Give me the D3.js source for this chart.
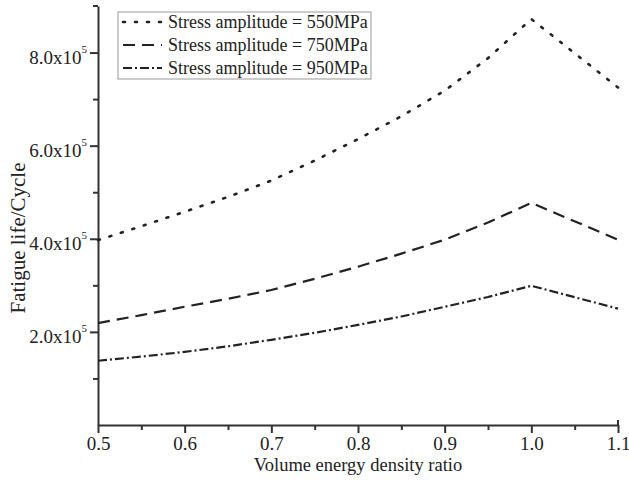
<!DOCTYPE html>
<html lang="en">
<head>
<meta charset="utf-8" />
<title>Fatigue life vs volume energy density ratio</title>
<script src="https://cdn.jsdelivr.net/npm/d3@7"></script>
<style>
    body { margin: 0; background: #fff; }
    text { font-family: "Liberation Serif", "Times New Roman", serif; fill: #222; }
    .axis path, .axis line { stroke: #333; }
</style>
</head>
<body>
<svg id="canvas" width="629" height="482" xmlns="http://www.w3.org/2000/svg"></svg>
<script>
    // volume energy density ratio
    var ratios = [0.5, 0.55, 0.6, 0.65, 0.7, 0.75, 0.8, 0.85, 0.9, 0.95, 1.0, 1.1];
    // fatigue life, cycles
    var life550 = [397000, 427000, 458000, 490000, 525000, 568000, 614000, 663000, 718000, 788000, 872000, 725000];
    var life750 = [219000, 236000, 254000, 271000, 290000, 314000, 340000, 368000, 398000, 435000, 477000, 398000];
    var life950 = [138000, 147000, 157000, 169000, 183000, 198000, 215000, 233000, 254000, 275000, 299000, 250000];
    var seriesNames = ["Stress amplitude = 550MPa", "Stress amplitude = 750MPa", "Stress amplitude = 950MPa"];
    var xTicks = [0.5, 0.6, 0.7, 0.8, 0.9, 1.0, 1.1];
    var yTicks = [200000, 400000, 600000, 800000];

    var svg = d3.select("#canvas");
    var x = d3.scaleLinear().domain([0.5, 1.1]).range([98, 618]);
    var y = d3.scaleLinear().domain([0, 900000]).range([425, 6]);

    var dashes = ["2,10", "12,7", "9,3,2,3"];
    var series = [life550, life750, life950];

    // minor ticks
    var xMinor = d3.range(0.55, 1.1, 0.1);
    svg.append("g").attr("class", "axis")
        .attr("transform", "translate(0,425)")
        .call(d3.axisBottom(x).tickValues(xMinor).tickSize(5).tickFormat(""))
        .call(function (g) { g.select(".domain").remove(); g.selectAll("line").attr("stroke-width", 2); });
    var yMinor = [100000, 300000, 500000, 700000];
    svg.append("g").attr("class", "axis")
        .attr("transform", "translate(98,0)")
        .call(d3.axisLeft(y).tickValues(yMinor).tickSize(5).tickFormat(""))
        .call(function (g) { g.select(".domain").remove(); g.selectAll("line").attr("stroke-width", 2); });

    // major axes
    var gx = svg.append("g").attr("class", "axis")
        .attr("transform", "translate(0,425)")
        .call(d3.axisBottom(x).tickValues(xTicks).tickSize(8).tickSizeOuter(0).tickPadding(4)
            .tickFormat(d3.format(".1f")));
    gx.select(".domain").attr("stroke-width", 2);
    gx.selectAll("line").attr("stroke-width", 2);
    gx.selectAll("text").attr("font-size", 19).attr("fill", "#222")
        .attr("font-family", "Liberation Serif, serif");

    var gy = svg.append("g").attr("class", "axis")
        .attr("transform", "translate(98,0)")
        .call(d3.axisLeft(y).tickValues(yTicks).tickSize(8).tickSizeOuter(0).tickFormat(""));
    gy.select(".domain").attr("stroke-width", 2);
    gy.selectAll("line").attr("stroke-width", 2);
    gy.selectAll(".tick").each(function (d) {
        var t = d3.select(this).select("text")
            .attr("font-size", 19).attr("fill", "#222")
            .attr("font-family", "Liberation Serif, serif")
            .attr("x", -11).attr("dy", "0.55em");
        t.text(null);
        t.append("tspan").text((d / 100000).toFixed(1) + "x10");
        t.append("tspan").attr("font-size", 11).attr("dy", "-0.95em").text("5");
    });

    // end caps on axes
    svg.append("line").attr("x1", 93).attr("x2", 98).attr("y1", y(900000)).attr("y2", y(900000))
        .attr("stroke", "#333").attr("stroke-width", 2);
    svg.append("line").attr("x1", x(1.1)).attr("x2", x(1.1)).attr("y1", 420).attr("y2", 425)
        .attr("stroke", "#333").attr("stroke-width", 2);

    // axis titles
    svg.append("text").attr("x", (x(0.5) + x(1.1)) / 2).attr("y", 471)
        .attr("text-anchor", "middle").attr("font-size", 18.5)
        .text("Volume energy density ratio");
    svg.append("text").attr("transform", "translate(25,238) rotate(-90)")
        .attr("text-anchor", "middle").attr("font-size", 21)
        .text("Fatigue life/Cycle");

    // curves
    var line = d3.line()
        .x(function (d, i) { return x(ratios[i]); })
        .y(function (d) { return y(d); })
        .curve(d3.curveLinear);

    series.forEach(function (s, i) {
        svg.append("path").datum(s)
            .attr("d", line)
            .attr("fill", "none")
            .attr("stroke", "#222")
            .attr("stroke-width", i === 0 ? 2.6 : 2.2)
            .attr("stroke-linecap", i === 0 ? "round" : "butt")
            .attr("stroke-dasharray", dashes[i]);
    });

    // legend
    var legend = svg.append("g").attr("transform", "translate(118,12)");
    legend.append("rect").attr("width", 253).attr("height", 67)
        .attr("fill", "#fff").attr("stroke", "#999").attr("stroke-width", 1);
    seriesNames.forEach(function (name, i) {
        var yy = 10 + i * 23;
        legend.append("line").attr("x1", 5).attr("x2", 44).attr("y1", yy).attr("y2", yy)
            .attr("stroke", "#222")
            .attr("stroke-width", i === 0 ? 2.6 : 2.2)
            .attr("stroke-linecap", i === 0 ? "round" : "butt")
            .attr("stroke-dasharray", dashes[i]);
        legend.append("text").attr("x", 50).attr("y", yy).attr("dy", "0.35em")
            .attr("font-size", 18).text(name);
    });
</script>
</body>
</html>
